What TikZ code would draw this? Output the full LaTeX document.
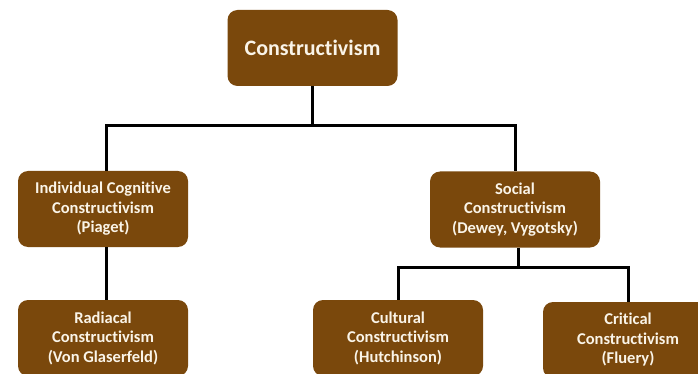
\documentclass[tikz,border=0pt]{standalone}
\usepackage{fontspec}
\setmainfont[Ligatures=NoCommon]{Carlito}
\definecolor{boxbrown}{RGB}{122,72,12}
\definecolor{boxtext}{RGB}{250,244,232}
\begin{document}
\begin{tikzpicture}[x=1pt,y=-1pt,
  cbox/.style={draw=none,fill=boxbrown,rounded corners=10pt,minimum width=170pt,minimum height=76pt,
    text=boxtext,align=center,font=\bfseries\fontsize{16.5}{19.5}\selectfont,inner sep=0pt},
  topbox/.style={cbox,font=\bfseries\fontsize{22}{26}\selectfont},
  conn/.style={line width=3pt,black}]
\useasboundingbox (0,0) rectangle (698,374);
\node[topbox] (root) at (312.5,48) {Constructivism};
\node[cbox] (ind) at (103,209) {Individual Cognitive\\Constructivism\\(Piaget)};
\node[cbox] (soc) at (515,209.5) {Social\\Constructivism\\(Dewey, Vygotsky)};
\node[cbox] (rad) at (103,338) {Radiacal\\Constructivism\\(Von Glaserfeld)};
\node[cbox] (cul) at (398,338) {Cultural\\Constructivism\\(Hutchinson)};
\node[cbox] (cri) at (628,340) {Critical\\Constructivism\\(Fluery)};
\coordinate (j1) at (312.5,126);
\coordinate (j2) at (518,267);
\draw[conn] (root.south) -- (j1);
\draw[conn] (ind.north -| 106,0) |- (j1) -| (soc.north);
\draw[conn] (ind.south -| 106,0) -- (rad.north -| 106,0);
\draw[conn] (soc.south -| j2) -- (j2);
\draw[conn] (cul.north) |- (j2) -| (cri.north);
\end{tikzpicture}
\end{document}
